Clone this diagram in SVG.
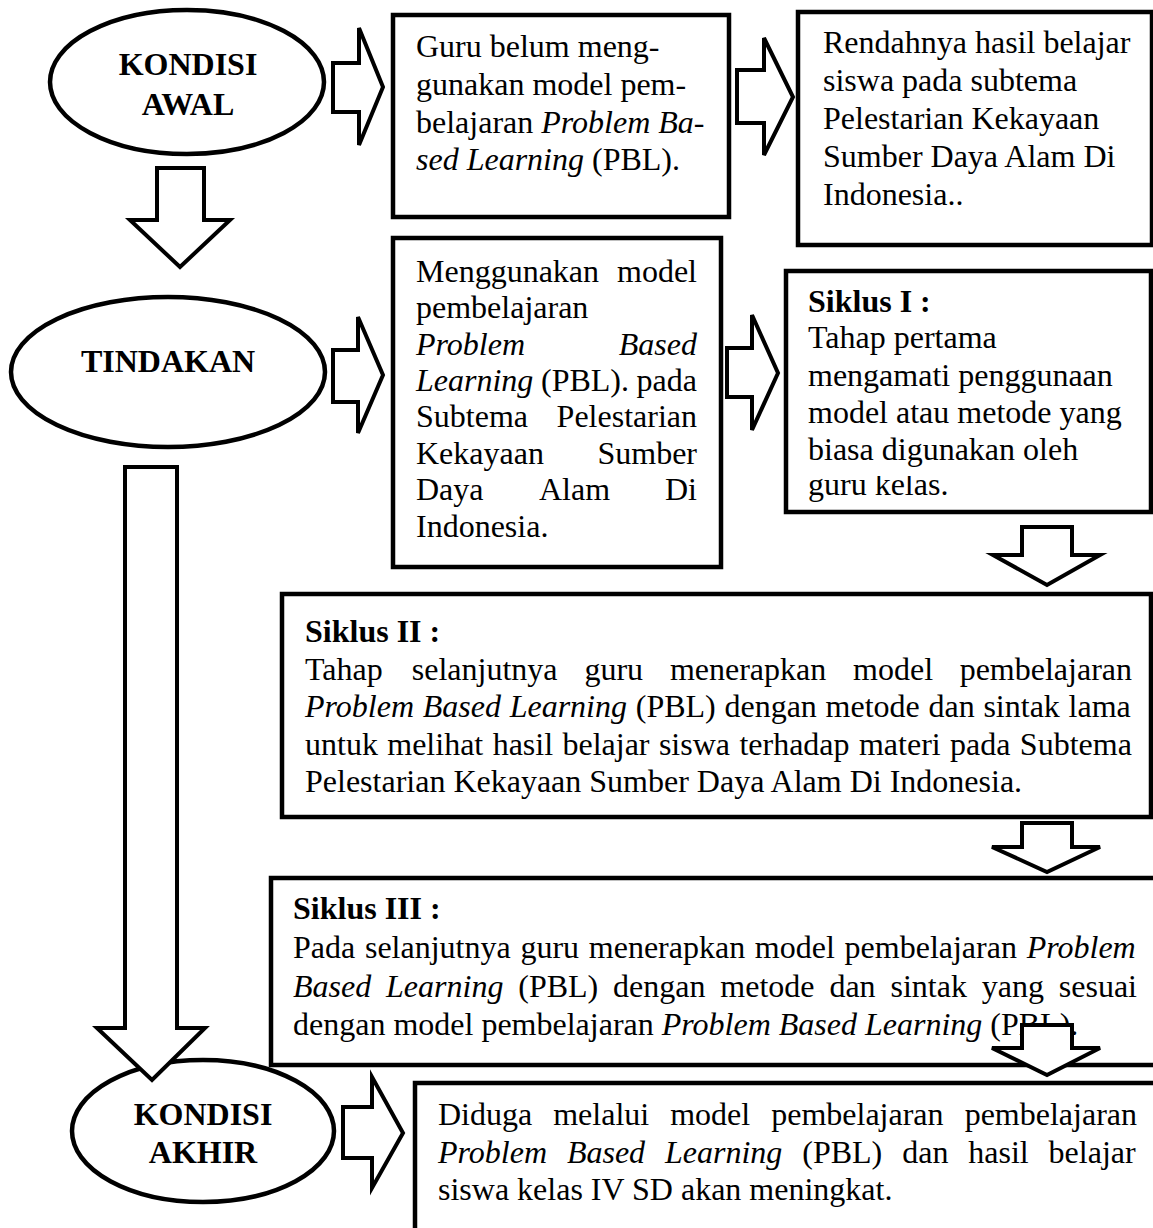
<svg xmlns="http://www.w3.org/2000/svg" width="1153" height="1228" viewBox="0 0 1153 1228">
<style>
.t{font-family:"Liberation Serif","Times New Roman",serif;font-size:32px;fill:#000}
.b{font-weight:bold}
.i{font-style:italic}
.m{text-anchor:middle}
.e{text-anchor:end}
.box{fill:#fff;stroke:#000;stroke-width:4.5}
.ell{fill:#fff;stroke:#000;stroke-width:4.5}
.arr{fill:#fff;stroke:#000;stroke-width:4;stroke-linejoin:miter}
</style>
<defs>
<clipPath id="clipG"><rect x="786" y="476" width="370" height="40"/></clipPath>
</defs>
<rect width="1153" height="1228" fill="#fff"/>

<g id="kondisi-awal">
<ellipse class="ell" cx="187" cy="82" rx="137" ry="72"/>
<text class="t b m" x="188" y="75">KONDISI</text>
<text class="t b m" x="188" y="115">AWAL</text>
</g>

<g id="guru-belum">
<rect class="box" x="393" y="15" width="336" height="202"/>
<text class="t" x="416" y="57">Guru belum meng-</text>
<text class="t" x="416" y="95">gunakan model pem-</text>
<text class="t" x="416" y="133">belajaran <tspan class="i">Problem Ba-</tspan></text>
<text class="t" x="416" y="170"><tspan class="i">sed Learning</tspan> (PBL).</text>
</g>

<g id="rendahnya">
<rect class="box" x="798" y="12" width="354" height="233"/>
<text class="t" x="823" y="53">Rendahnya hasil belajar</text>
<text class="t" x="823" y="91">siswa pada subtema</text>
<text class="t" x="823" y="129">Pelestarian Kekayaan</text>
<text class="t" x="823" y="167">Sumber Daya Alam Di</text>
<text class="t" x="823" y="205">Indonesia..</text>
</g>

<g id="tindakan">
<ellipse class="ell" cx="168" cy="372" rx="157" ry="75"/>
<text class="t b m" x="168" y="372">TINDAKAN</text>
</g>

<g id="menggunakan">
<rect class="box" x="393" y="238" width="328" height="329"/>
<text class="t" x="416" y="282">Menggunakan</text>
<text class="t e" x="697" y="282">model</text>
<text class="t" x="416" y="318">pembelajaran</text>
<text class="t i" x="416" y="355">Problem</text>
<text class="t i e" x="697" y="355">Based</text>
<text class="t" x="416" y="391"><tspan class="i">Learning</tspan></text>
<text class="t" x="541" y="391">(PBL).</text>
<text class="t e" x="697" y="391">pada</text>
<text class="t" x="416" y="427">Subtema</text>
<text class="t e" x="697" y="427">Pelestarian</text>
<text class="t" x="416" y="464">Kekayaan</text>
<text class="t e" x="697" y="464">Sumber</text>
<text class="t" x="416" y="500">Daya</text>
<text class="t" x="539" y="500">Alam</text>
<text class="t e" x="697" y="500">Di</text>
<text class="t" x="416" y="537">Indonesia.</text>
</g>

<g id="siklus-1">
<rect class="box" x="786" y="271" width="365" height="241"/>
<text class="t b" x="808" y="312">Siklus I :</text>
<text class="t" x="808" y="348">Tahap pertama</text>
<text class="t" x="808" y="386">mengamati penggunaan</text>
<text class="t" x="808" y="423">model atau metode yang</text>
<text class="t" x="808" y="460">biasa digunakan oleh</text>
<text class="t" x="808" y="495" clip-path="url(#clipG)">guru kelas.</text>
</g>

<g id="siklus-2">
<rect class="box" x="282" y="594" width="869" height="223"/>
<text class="t b" x="305" y="642">Siklus II :</text>
<text class="t" x="305" y="680">Tahap</text>
<text class="t" x="411.8" y="680">selanjutnya</text>
<text class="t" x="584.4" y="680">guru</text>
<text class="t" x="669.9" y="680">menerapkan</text>
<text class="t" x="853.1" y="680">model</text>
<text class="t e" x="1132" y="680">pembelajaran</text>
<text class="t" x="305" y="717" style="word-spacing:0.72px"><tspan class="i">Problem Based Learning</tspan> (PBL) dengan metode dan sintak lama</text>
<text class="t" x="305" y="755" style="word-spacing:1.39px">untuk melihat hasil belajar siswa terhadap materi pada Subtema</text>
<text class="t" x="305" y="792">Pelestarian Kekayaan Sumber Daya Alam Di Indonesia.</text>
</g>

<g id="siklus-3">
<rect class="box" x="271" y="878" width="900" height="187"/>
<text class="t b" x="293" y="919">Siklus III :</text>
<text class="t" x="293" y="958" style="word-spacing:1.73px">Pada selanjutnya guru menerapkan model pembelajaran <tspan class="i">Problem</tspan></text>
<text class="t" x="293" y="997" style="word-spacing:6.85px"><tspan class="i">Based Learning</tspan> (PBL) dengan metode dan sintak yang sesuai</text>
<text class="t" x="293" y="1035">dengan model pembelajaran <tspan class="i">Problem Based Learning</tspan> (PBL).</text>
</g>

<g id="kondisi-akhir">
<ellipse class="ell" cx="203" cy="1131" rx="131" ry="71"/>
<text class="t b m" x="203" y="1125">KONDISI</text>
<text class="t b m" x="203" y="1163">AKHIR</text>
</g>

<g id="diduga">
<rect class="box" x="415" y="1083" width="800" height="200"/>
<text class="t" x="438" y="1125">Diduga</text>
<text class="t" x="553.2" y="1125">melalui</text>
<text class="t" x="670.2" y="1125">model</text>
<text class="t" x="771.2" y="1125">pembelajaran</text>
<text class="t e" x="1137" y="1125">pembelajaran</text>
<text class="t" x="438" y="1163" style="word-spacing:11.9px"><tspan class="i">Problem Based Learning</tspan> (PBL) dan hasil belajar</text>
<text class="t" x="438" y="1200">siswa kelas IV SD akan meningkat.</text>
</g>

<g id="connectors">
<polygon class="arr" points="333,63 359,63 359,28 383,87 359,145 359,112 333,112"/>
<polygon class="arr" points="737,70 764,70 764,38 793,97 764,155 764,123 737,123"/>
<polygon class="arr" points="333,350 358,350 358,317 383,375 358,433 358,402 333,402"/>
<polygon class="arr" points="727,348 752,348 752,315 778,373 752,430 752,397 727,397"/>
<polygon class="arr" points="343,1107 372,1107 372,1077 403,1133 372,1188 372,1158 343,1158"/>
<polygon class="arr" points="157,168 204,168 204,220 230,220 180,267 130,220 157,220"/>
<polygon class="arr" points="125,467 177,467 177,1028 205,1028 152,1080 97,1028 125,1028"/>
<polygon class="arr" points="1022,527 1072,527 1072,555 1100,555 1047,585 993,555 1022,555"/>
<polygon class="arr" points="1022,823 1072,823 1072,847 1100,847 1047,872 992,847 1022,847"/>
<polygon class="arr" points="1022,1025 1072,1025 1072,1048 1100,1048 1047,1075 992,1048 1022,1048"/>
</g>
</svg>
